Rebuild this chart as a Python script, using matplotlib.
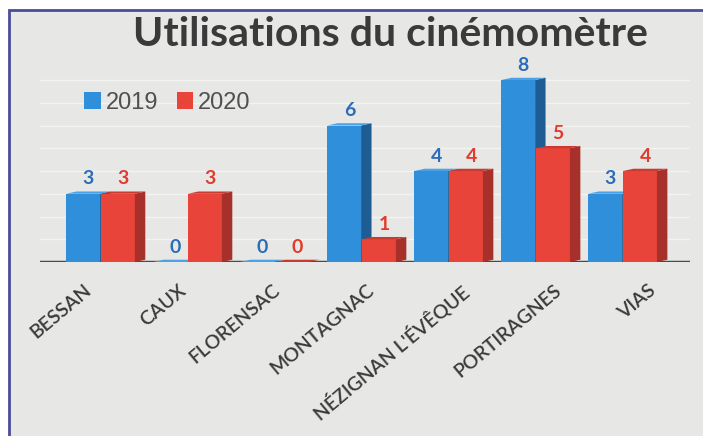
import matplotlib
matplotlib.use("Agg")
import matplotlib.pyplot as plt
import matplotlib.transforms as mtransforms
from matplotlib.patches import Rectangle, Polygon, Patch
import numpy as np

categories = ["BESSAN", "CAUX", "FLORENSAC", "MONTAGNAC", "NÉZIGNAN L'ÉVÊQUE", "PORTIRAGNES", "VIAS"]
values_2019 = [3, 0, 0, 6, 4, 8, 3]
values_2020 = [3, 3, 0, 1, 4, 5, 4]
series_names = ["2019", "2020"]
title = "Utilisations du cinémomètre"

W, H = 703, 436
fig = plt.figure(figsize=(W / 100, H / 100), dpi=100)
fig.patch.set_facecolor("white")
fig.patches.append(Rectangle((9 / W, -0.01), 1.0, 1 - 10 / H + 0.01, transform=fig.transFigure,
                             facecolor="#e7e7e5", edgecolor="#4b4b9c", linewidth=2, zorder=-5))

ax = fig.add_axes([40 / W, 1 - 262 / H, 650 / W, 207 / H])
ax.set_zorder(2)
ax.set_facecolor("none")
ax.set_xlim(-0.70, 6.77)
ax.set_ylim(0, 9.1)
for s in ax.spines.values():
    s.set_visible(False)
ax.set_yticks([])
for k in range(1, 9):
    ax.axhline(k, color="white", lw=1, alpha=0.5, zorder=1)
ax.axhline(0, color="#4a4a4a", lw=2.5, zorder=2)

w = 0.39
dx, dy = 0.12, 0.1
front = {"2019": "#2f8fda", "2020": "#e8443a"}
side = {"2019": "#1d5d94", "2020": "#a8302a"}
top = {"2019": "#4aa3e6", "2020": "#c93a32"}
lab = {"2019": "#2a6db8", "2020": "#e23a2c"}

x = np.arange(len(categories))
for name, vals, off in [("2019", values_2019, -w - 0.01), ("2020", values_2020, 0.0)]:
    for xi, v in zip(x, vals):
        x0 = xi + off
        ax.add_patch(Rectangle((x0, 0), w, v, facecolor=front[name], edgecolor="none", zorder=3))
        ax.add_patch(Polygon([(x0 + w, 0), (x0 + w + dx, dy), (x0 + w + dx, v + dy), (x0 + w, v)],
                             closed=True, facecolor=side[name], edgecolor="none", zorder=3))
        ax.add_patch(Polygon([(x0, v), (x0 + dx, v + dy), (x0 + w + dx, v + dy), (x0 + w, v)],
                             closed=True, facecolor=top[name], edgecolor="none", zorder=3))
        ax.annotate(str(v), (x0 + w / 2 + dx / 2, v + dy), xytext=(0, 3), textcoords="offset points",
                    ha="center", va="bottom", fontsize=14, fontweight="bold", color=lab[name],
                    family="Lato", zorder=5)

ax.set_xticks(x)
ax.set_xticklabels(categories, rotation=40, ha="right", va="top", rotation_mode="anchor",
                   fontsize=14, fontweight="semibold", color="#3a3a3a", family="Lato")
ax.tick_params(axis="x", length=0, pad=14)
for i, t in enumerate(ax.get_xticklabels()):
    t.set_transform(t.get_transform() + mtransforms.ScaledTranslation((-17 + 7 * i) / 100, 0, fig.dpi_scale_trans))

fig.text(390 / W, 1 - 35 / H, title, ha="center", va="center", fontsize=29.5, fontweight="bold",
         color="#3a3a3a", family="Lato")

handles = [Patch(facecolor=front[n]) for n in series_names]
leg = fig.legend(handles, series_names, loc="center left", bbox_to_anchor=(63 / W, 1 - 103 / H),
                 ncol=2, frameon=False, handlelength=0.7, handleheight=0.7,
                 handletextpad=0.2, columnspacing=0.8, prop={"family": "Liberation Sans", "size": 17})
for t in leg.get_texts():
    t.set_color("#505050")

fig.savefig("out.png", dpi=100)
